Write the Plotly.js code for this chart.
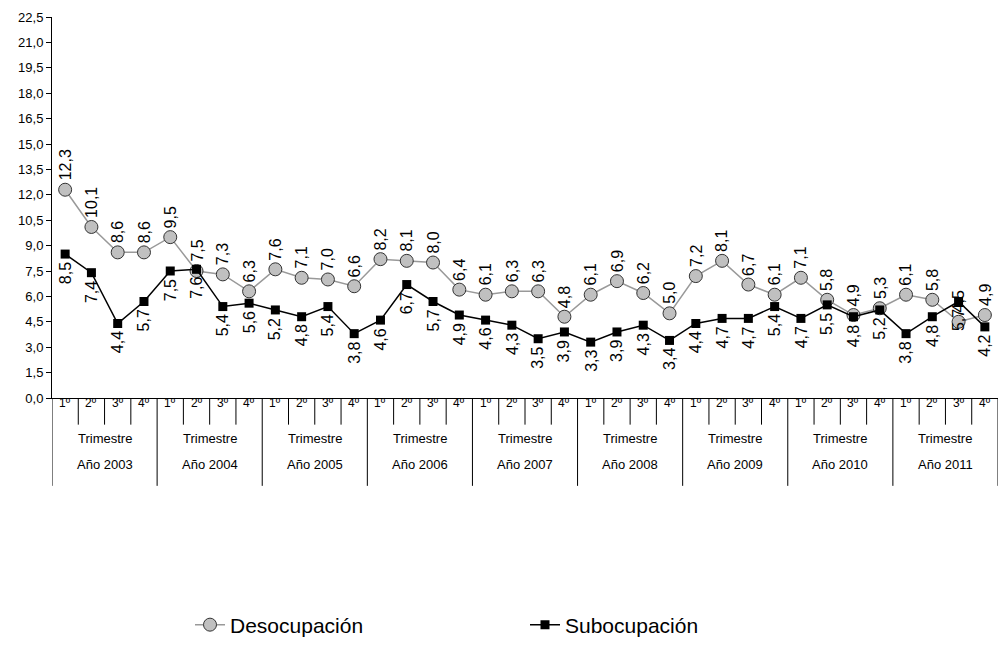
<!DOCTYPE html>
<html><head><meta charset="utf-8">
<script src="https://cdn.plot.ly/plotly-3.0.1.min.js"></script>
<style>body{margin:0}#c{width:1000px;height:648px}</style>
</head><body><div id="c"></div>
<script>
var years = ['Año 2003','Año 2004','Año 2005','Año 2006','Año 2007','Año 2008','Año 2009','Año 2010','Año 2011'];
var quarters = ['1º','2º','3º','4º'];
var desocupacion = [12.3,10.1,8.6,8.6, 9.5,7.5,7.3,6.3, 7.6,7.1,7.0,6.6, 8.2,8.1,8.0,6.4, 6.1,6.3,6.3,4.8,
  6.1,6.9,6.2,5.0, 7.2,8.1,6.7,6.1, 7.1,5.8,4.9,5.3, 6.1,5.8,4.5,4.9];
var subocupacion = [8.5,7.4,4.4,5.7, 7.5,7.6,5.4,5.6, 5.2,4.8,5.4,3.8, 4.6,6.7,5.7,4.9, 4.6,4.3,3.5,3.9,
  3.3,3.9,4.3,3.4, 4.4,4.7,4.7,5.4, 4.7,5.5,4.8,5.2, 3.8,4.8,5.7,4.2];

var xs = desocupacion.map(function(v, i) { return i; });
var fmt = function(v) { return v.toFixed(1).replace('.', ','); };
var px = function(p) { return (403 - p) / 386; };

var annotations = [], shapes = [];
var fam = 'Liberation Sans, Arial, sans-serif';
var font = { family: fam, size: 16, color: '#000' };
xs.forEach(function(i) {
  annotations.push({ x: i, y: desocupacion[i], xref: 'x', yref: 'y', text: fmt(desocupacion[i]),
    showarrow: false, textangle: -90, yanchor: 'bottom', xanchor: 'center', yshift: 7, font: font });
  annotations.push({ x: i, y: subocupacion[i], xref: 'x', yref: 'y', text: fmt(subocupacion[i]),
    showarrow: false, textangle: -90, yanchor: 'top', xanchor: 'center', yshift: -6, font: font });
  annotations.push({ x: i, y: px(417), xref: 'x', yref: 'paper', text: quarters[i % 4],
    showarrow: false, font: { family: fam, size: 12, color: '#000' } });
});
years.forEach(function(y, k) {
  annotations.push({ x: k * 4 + 1.5, y: px(454), xref: 'x', yref: 'paper', text: 'Trimestre',
    showarrow: false, font: { family: fam, size: 13, color: '#000' } });
  annotations.push({ x: k * 4 + 1.5, y: px(480), xref: 'x', yref: 'paper', text: y,
    showarrow: false, font: { family: fam, size: 13, color: '#000' } });
});
for (var b = 0; b <= 36; b++) {
  var big = b % 4 === 0;
  shapes.push({ type: 'line', xref: 'x', yref: 'paper', x0: b - 0.5, x1: b - 0.5,
    y0: 0, y1: big ? px(492) : px(430), line: { color: '#000', width: 1 } });
}

var data = [
  { x: xs, y: desocupacion, type: 'scatter', mode: 'lines+markers', name: 'Desocupación',
    line: { color: '#999999', width: 1.5 },
    marker: { symbol: 'circle', size: 13, color: '#c0c0c0', line: { color: '#333', width: 1 } } },
  { x: xs, y: subocupacion, type: 'scatter', mode: 'lines+markers', name: 'Subocupación',
    line: { color: '#000', width: 1.5 },
    marker: { symbol: 'square', size: 9, color: '#000' } }
];

var layout = {
  paper_bgcolor: '#fff', plot_bgcolor: '#fff',
  margin: { l: 52, r: 2, t: 17, b: 245 },
  separators: ',.',
  font: { family: fam, color: '#000', size: 13 },
  showlegend: true,
  legend: { orientation: 'h', x: 0.5, xanchor: 'center', y: px(633), yanchor: 'middle',
    font: { size: 21 }, entrywidth: 290 },
  xaxis: { range: [-0.5, 35.5], showticklabels: false, showgrid: false, zeroline: false,
    showline: true, linecolor: '#000', ticks: '' },
  yaxis: { range: [0, 22.5], dtick: 1.5, tickformat: '.1f', showgrid: false, zeroline: false,
    showline: true, linecolor: '#000', ticks: 'outside', ticklen: 5, tickcolor: '#000' },
  annotations: annotations, shapes: shapes
};
Plotly.newPlot('c', data, layout, { displayModeBar: false });
</script></body></html>
